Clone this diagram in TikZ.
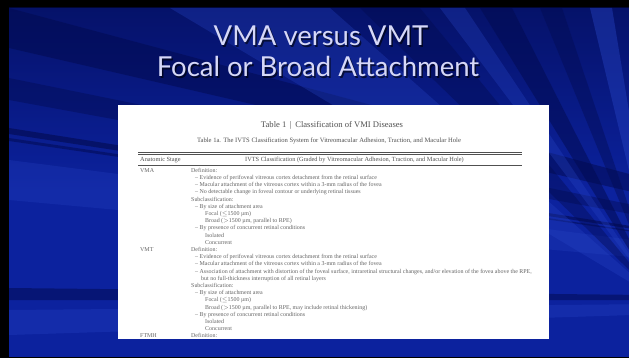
\documentclass[tikz,border=0pt]{standalone}
\usepackage{fontspec}
\setmainfont{Liberation Serif}
\newfontfamily\titlefont{Lato}
\definecolor{slidebase}{RGB}{12,34,158}
\definecolor{raydark}{RGB}{2,10,78}
\definecolor{raylight}{RGB}{40,70,200}
\definecolor{titlecol}{RGB}{214,216,248}
\definecolor{tabtext}{RGB}{100,100,100}
\definecolor{tabhead}{RGB}{80,80,80}
\tikzset{
  darkray/.style={fill=raydark, opacity=#1},
  darkray/.default=0.45,
  lightray/.style={fill=raylight, opacity=#1},
  lightray/.default=0.35,
  titletext/.style={font=\titlefont\fontsize{27.5}{30}\selectfont, text=titlecol, inner sep=0pt, anchor=base},
  titleshadow/.style={font=\titlefont\fontsize{27.5}{30}\selectfont, text=black, opacity=0.6, inner sep=0pt, anchor=base},
  tabcap/.style={font=\fontsize{8.6}{9}\selectfont, text=tabhead, inner sep=0pt, anchor=base},
  tabsub/.style={font=\fontsize{6.6}{7}\selectfont, text=tabhead, inner sep=0pt, anchor=base},
  tabhd/.style={font=\fontsize{6.3}{7}\selectfont, text=tabhead, inner sep=0pt, anchor=base west},
  tabbody/.style={font=\fontsize{5.95}{7.2}\selectfont, text=tabtext, inner sep=0pt, anchor=north west, align=left},
  tabrule/.style={draw=tabhead, line width=0.7pt},
}
\begin{document}
\begin{tikzpicture}[x=1pt,y=-1pt]
\useasboundingbox (0,0) rectangle (629,358);
\fill[black] (0,0) rectangle (629,358);
% ---- slide background ----
\begin{scope}
\clip (9,8) rectangle (629,357);
\fill[slidebase] (9,8) rectangle (629,357);
\shade[top color=raydark, bottom color=slidebase, opacity=0.65] (9,8) rectangle (629,190);
\coordinate (F) at (660,300);
\coordinate (G) at (1100,300);
\fill[darkray=0.5] (G) -- (9,8) -- (9,48) -- cycle;
\fill[darkray=0.4] (G) -- (9,78) -- (9,100) -- cycle;
\fill[darkray=0.6] (G) -- (9,128) -- (9,134) -- cycle;
\fill[darkray=0.5] (G) -- (9,138) -- (9,141) -- cycle;
\fill[lightray=0.25] (G) -- (9,160) -- (9,200) -- cycle;
\fill[darkray=0.5] (G) -- (9,288) -- (9,300) -- cycle;
\fill[lightray=0.3] (G) -- (9,310) -- (9,335) -- cycle;
\fill[lightray=0.3] (F) -- (170,8) -- (330,8) -- cycle;
\fill[darkray=0.4] (F) -- (360,8) -- (420,8) -- cycle;
\fill[lightray=0.3] (F) -- (440,8) -- (465,8) -- cycle;
\fill[darkray=0.5] (F) -- (480,8) -- (512,8) -- cycle;
\fill[darkray=0.4] (F) -- (540,8) -- (562,8) -- cycle;
\fill[lightray=0.4] (F) -- (590,8) -- (612,8) -- cycle;
\fill[lightray=0.45] (F) -- (629,210) -- (629,245) -- cycle;
\fill[darkray=0.35] (F) -- (629,255) -- (629,275) -- cycle;
\end{scope}
% ---- title ----
\node[titleshadow] (t1s) at (322.5,47.5) {VMA versus VMT};
\node[titletext] (t1) at (321,46) {VMA versus VMT};
\node[titleshadow] (t2s) at (319.5,78.5) {Focal or Broad Attachment};
\node[titletext] (t2) at (318,77) {Focal or Broad Attachment};
% ---- picture of the table ----
\node[fill=white, minimum width=431pt, minimum height=234pt, inner sep=0pt, anchor=north west] (box) at (118,105) {};
\begin{scope}
\clip (118,105) rectangle (549,339);
\node[tabcap] (cap) at (332,128) {Table 1 \,|\, Classification of VMI Diseases};
\node[tabsub] (sub) at (329,143) {Table 1a. The IVTS Classification System for Vitreomacular Adhesion, Traction, and Macular Hole};
\coordinate (rl1) at (138,152);
\coordinate (rr1) at (522,152);
\coordinate (rl2) at (138,154.5);
\coordinate (rr2) at (522,154.5);
\coordinate (rl3) at (138,165.5);
\coordinate (rr3) at (522,165.5);
\draw[tabrule] (rl1) -- (rr1);
\draw[tabrule] (rl2) -- (rr2);
\draw[tabrule] (rl3) -- (rr3);
\node[tabhd] (h1) at (140,162) {Anatomic Stage};
\node[tabhd] (h2) at (245,162) {IVTS Classification (Graded by Vitreomacular Adhesion, Traction, and Macular Hole)};
\node[tabbody] (l1) at (140,168) {VMA};
\node[tabbody] (b1) at (191,168) {Definition:\\
\hspace*{4pt}-- Evidence of perifoveal vitreous cortex detachment from the retinal surface\\
\hspace*{4pt}-- Macular attachment of the vitreous cortex within a 3-mm radius of the fovea\\
\hspace*{4pt}-- No detectable change in foveal contour or underlying retinal tissues\\
Subclassification:\\
\hspace*{4pt}-- By size of attachment area\\
\hspace*{14pt}Focal ($\leq$1500 \textmu m)\\
\hspace*{14pt}Broad ($>$1500 \textmu m, parallel to RPE)\\
\hspace*{4pt}-- By presence of concurrent retinal conditions\\
\hspace*{14pt}Isolated\\
\hspace*{14pt}Concurrent};
\node[tabbody] (l2) at (140,247.2) {VMT};
\node[tabbody] (b2) at (191,247.2) {Definition:\\
\hspace*{4pt}-- Evidence of perifoveal vitreous cortex detachment from the retinal surface\\
\hspace*{4pt}-- Macular attachment of the vitreous cortex within a 3-mm radius of the fovea\\
\hspace*{4pt}-- Association of attachment with distortion of the foveal surface, intraretinal structural changes, and/or elevation of the fovea above the RPE,\\
\hspace*{10pt}but no full-thickness interruption of all retinal layers\\
Subclassification:\\
\hspace*{4pt}-- By size of attachment area\\
\hspace*{14pt}Focal ($\leq$1500 \textmu m)\\
\hspace*{14pt}Broad ($>$1500 \textmu m, parallel to RPE, may include retinal thickening)\\
\hspace*{4pt}-- By presence of concurrent retinal conditions\\
\hspace*{14pt}Isolated\\
\hspace*{14pt}Concurrent};
\node[tabbody] (l3) at (140,333.6) {FTMH};
\node[tabbody] (b3) at (191,333.6) {Definition:};
\end{scope}
\end{tikzpicture}
\end{document}
